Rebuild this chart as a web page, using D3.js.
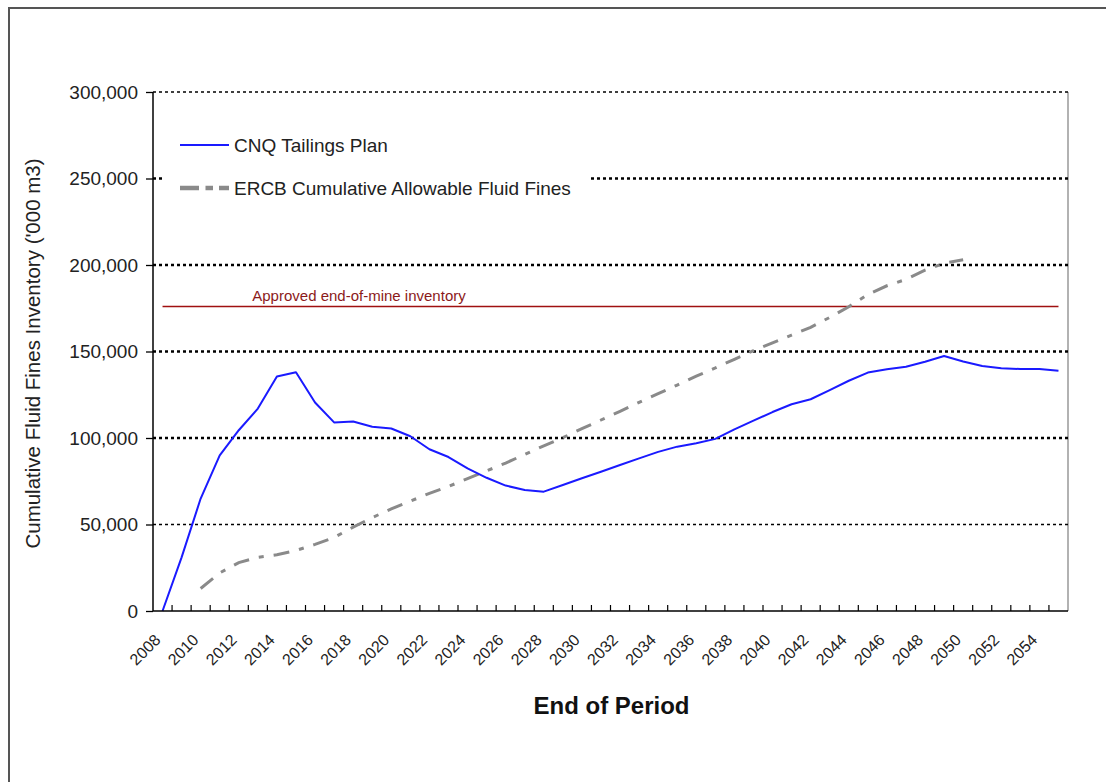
<!DOCTYPE html>
<html>
<head>
<meta charset="utf-8">
<script src="https://cdn.jsdelivr.net/npm/d3@7"></script>
<style>
  body { margin: 0; background: #fff; }
  svg text { font-family: "Liberation Sans", Arial, sans-serif; }
</style>
</head>
<body>
<div id="chart"></div>
<script>
// categories (end of period)
var years = [2008, 2009, 2010, 2011, 2012, 2013, 2014, 2015, 2016, 2017, 2018, 2019,
             2020, 2021, 2022, 2023, 2024, 2025, 2026, 2027, 2028, 2029, 2030, 2031,
             2032, 2033, 2034, 2035, 2036, 2037, 2038, 2039, 2040, 2041, 2042, 2043,
             2044, 2045, 2046, 2047, 2048, 2049, 2050, 2051, 2052, 2053, 2054, 2055];

// CNQ Tailings Plan ('000 m3)
var cnq = [0, 31000, 65000, 90000, 104500, 117000, 135500, 138000, 120500, 109000, 109500, 106500,
           105500, 101000, 93500, 89000, 82500, 77000, 72500, 70000, 69000, 72800, 76700, 80500,
           84400, 88200, 92000, 95000, 97000, 99500, 105000, 110000, 115000, 119500, 122400, 127700,
           133100, 137800, 139700, 141200, 144100, 147400, 144200, 141600, 140300, 139900, 139900, 138900];

// ERCB cumulative allowable fluid fines ('000 m3), null = no value
var ercb = [null, null, 13000, 22000, 28000, 31000, 32500, 35000, 38500, 42500, 48500, 54000,
            59000, 63500, 68000, 72000, 76500, 81000, 85500, 90500, 95500, 100200, 105400, 110400,
            115400, 120600, 125600, 130600, 135800, 140500, 145500, 150500, 155000, 159500, 164000, 169700,
            175900, 183000, 188000, 191700, 197000, 201000, 203000, null, null, null, null, null];

var approved = 176000;
var yTicks = [0, 50000, 100000, 150000, 200000, 250000, 300000];
var labelYears = years.filter(function(y) { return y % 2 === 0; });

var width = 1106, height = 782;
var plotL = 153, plotR = 1068, plotT = 92, plotB = 611;

var svg = d3.select("#chart").append("svg")
    .attr("width", width)
    .attr("height", height);

// outer frame
svg.append("path")
    .attr("d", "M 9," + height + " V 8 H " + width)
    .attr("fill", "none")
    .attr("stroke", "#555")
    .attr("stroke-width", 2);

var x = d3.scaleBand().domain(years).range([plotL, plotR]).padding(0);
var y = d3.scaleLinear().domain([0, 300000]).range([plotB, plotT]);
var cx = function(yr) { return x(yr) + x.bandwidth() / 2; };

// plot right border
svg.append("line")
    .attr("x1", plotR).attr("x2", plotR)
    .attr("y1", plotT).attr("y2", plotB)
    .attr("stroke", "#999").attr("stroke-width", 1.5);

// gridlines
svg.append("g").selectAll("line")
    .data(yTicks.filter(function(d) { return d > 0; }))
    .join("line")
    .attr("x1", plotL).attr("x2", plotR)
    .attr("y1", function(d) { return y(d); })
    .attr("y2", function(d) { return y(d); })
    .attr("stroke", "#000")
    .attr("stroke-width", function(d) { return d === 50000 ? 1.3 : (d === 300000 ? 1.6 : 2.4); })
    .attr("stroke-dasharray", "3,3");

// approved end-of-mine inventory
svg.append("line")
    .attr("x1", cx(years[0])).attr("x2", cx(years[years.length - 1]))
    .attr("y1", y(approved)).attr("y2", y(approved))
    .attr("stroke", "#a01010").attr("stroke-width", 1.5);

svg.append("text")
    .attr("x", 359).attr("y", y(approved) - 6)
    .attr("text-anchor", "middle")
    .attr("font-size", 15)
    .attr("fill", "#8b1a1a")
    .text("Approved end-of-mine inventory");

// legend (white box covers the 250,000 gridline)
svg.append("rect")
    .attr("x", 162).attr("y", 118)
    .attr("width", 426).attr("height", 92)
    .attr("fill", "#fff");

var line = d3.line()
    .defined(function(d) { return d[1] != null; })
    .x(function(d) { return cx(d[0]); })
    .y(function(d) { return y(d[1]); });

svg.append("path")
    .datum(years.map(function(yr, i) { return [yr, ercb[i]]; }))
    .attr("d", line)
    .attr("fill", "none")
    .attr("stroke", "#8a8a8a")
    .attr("stroke-width", 3)
    .attr("stroke-dasharray", "16,10,5,10");

svg.append("path")
    .datum(years.map(function(yr, i) { return [yr, cnq[i]]; }))
    .attr("d", line)
    .attr("fill", "none")
    .attr("stroke", "#1a1aff")
    .attr("stroke-width", 2)
    .attr("stroke-linejoin", "round");

// legend entries
var legend = [
  { label: "CNQ Tailings Plan", color: "#1a1aff", w: 2, dash: null, yy: 145 },
  { label: "ERCB Cumulative Allowable Fluid Fines", color: "#8a8a8a", w: 4.5, dash: "19,6.5,7.5,6,10", yy: 188 }
];
var lg = svg.append("g").selectAll("g").data(legend).join("g");
lg.append("line")
    .attr("x1", 180).attr("x2", 229)
    .attr("y1", function(d) { return d.yy; }).attr("y2", function(d) { return d.yy; })
    .attr("stroke", function(d) { return d.color; })
    .attr("stroke-width", function(d) { return d.w; })
    .attr("stroke-dasharray", function(d) { return d.dash; });
lg.append("text")
    .attr("x", 234).attr("y", function(d) { return d.yy + 7; })
    .attr("font-size", 19)
    .attr("fill", "#222")
    .text(function(d) { return d.label; });

// y axis
var yAxis = svg.append("g")
    .attr("transform", "translate(" + plotL + ",0)")
    .call(d3.axisLeft(y).tickValues(yTicks).tickFormat(d3.format(",")).tickSize(7).tickPadding(8));
yAxis.select(".domain").attr("stroke", "#000").attr("stroke-width", 1.5).attr("d", "M0," + plotT + "V" + plotB);
yAxis.selectAll(".tick line").attr("stroke", "#000").attr("stroke-width", 1.3);
yAxis.selectAll(".tick text")
    .attr("font-family", "Liberation Sans, Arial, sans-serif")
    .attr("font-size", 19).attr("fill", "#222");

// x axis
var xAxis = svg.append("g")
    .attr("transform", "translate(0," + plotB + ")")
    .call(d3.axisBottom(x).tickValues(labelYears).tickSize(0).tickPadding(0));
xAxis.select(".domain").attr("stroke", "#000").attr("stroke-width", 1.5).attr("d", "M" + plotL + ",0H" + plotR);
xAxis.selectAll(".tick text")
    .attr("font-family", "Liberation Sans, Arial, sans-serif")
    .attr("font-size", 16).attr("fill", "#222")
    .attr("text-anchor", "end")
    .attr("dy", null)
    .attr("transform", "translate(-1,30) rotate(-45)");

// category boundary ticks pointing up
svg.append("g").selectAll("line")
    .data(years.slice(1))
    .join("line")
    .attr("x1", function(d) { return x(d); }).attr("x2", function(d) { return x(d); })
    .attr("y1", plotB).attr("y2", plotB - 6)
    .attr("stroke", "#000").attr("stroke-width", 1.2);

// axis titles
svg.append("text")
    .attr("transform", "translate(40," + ((plotT + plotB) / 2 + 2) + ") rotate(-90)")
    .attr("text-anchor", "middle")
    .attr("font-size", 20.5)
    .attr("fill", "#222")
    .text("Cumulative Fluid Fines Inventory ('000 m3)");

svg.append("text")
    .attr("x", (plotL + plotR) / 2 + 1).attr("y", 714)
    .attr("text-anchor", "middle")
    .attr("font-size", 24)
    .attr("font-weight", "bold")
    .attr("fill", "#111")
    .text("End of Period");
</script>
</body>
</html>
